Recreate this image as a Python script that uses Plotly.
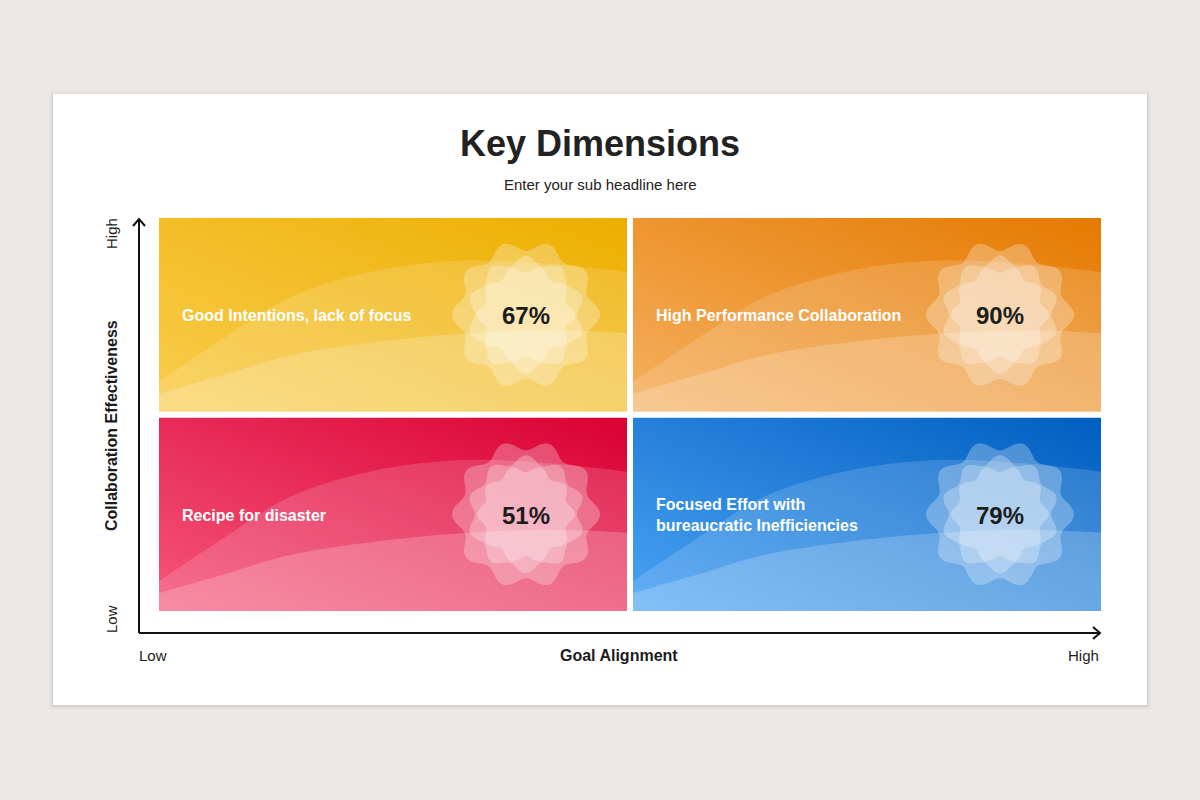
import numpy as np
import plotly.graph_objects as go

# ---- chart content ----
TITLE = "Key Dimensions"
SUBTITLE = "Enter your sub headline here"
X_TITLE = "Goal Alignment"
Y_TITLE = "Collaboration Effectiveness"
X_TICKS = ["Low", "High"]
Y_TICKS = ["Low", "High"]

QUAD_LABELS = [
    "Good Intentions, lack of focus",
    "High Performance Collaboration",
    "Recipe for disaster",
    "Focused Effort with<br>bureaucratic Inefficiencies",
]
QUAD_SCORES = [67, 90, 51, 79]

# light (bottom-left) -> dark (top-right) gradient per quadrant
QUAD_COLORS = [
    ("#F9CD4E", "#EDAE00"),
    ("#F5B060", "#E57A00"),
    ("#F5577A", "#DA0033"),
    ("#4AA3F5", "#005EBF"),
]

# ---- layout constants (pixels) ----
W, H = 1200, 800
BG = "#ECE8E6"
QUAD_W, QUAD_H = 468, 193.5
QUAD_ORIGINS = [(159, 218), (633, 218), (159, 417.5), (633, 417.5)]
BADGE_DX = 367
LABEL_DX = 21
FONT = "Liberation Sans, Arial, sans-serif"
INK = "#1c1c1c"

# decorative wave profiles inside each quadrant (unit coords, v up)
WAVE_BACK_U = [0, 0.14, 0.28, 0.45, 0.65, 0.85, 1]
WAVE_BACK_V = [0.155, 0.38, 0.59, 0.72, 0.78, 0.76, 0.72]
WAVE_FRONT_U = [0, 0.14, 0.28, 0.5, 0.7, 0.85, 1]
WAVE_FRONT_V = [0.093, 0.19, 0.29, 0.37, 0.41, 0.42, 0.405]

# badge = three wavy 10-lobe stars: (mean radius, amplitude, phase deg)
STARS = [(69, 5, 0), (55, 4, 18), (45.5, 3.5, 0)]


def star_path(cx, cy, r0, amp, phase):
    t = np.linspace(0, 2 * np.pi, 361)
    r = r0 + amp * np.cos(10 * (t - np.radians(phase)))
    xs = cx + r * np.cos(t)
    ys = cy - r * np.sin(t)
    pts = " L".join(f"{x:.2f},{y:.2f}" for x, y in zip(xs, ys))
    return "M" + pts + " Z"


fig = go.Figure()

# overlay axis in pixel coords for text, arrows, badges
fig.update_layout(
    xaxis=dict(domain=[0, 1], range=[0, W], visible=False, fixedrange=True),
    yaxis=dict(domain=[0, 1], range=[H, 0], visible=False, fixedrange=True),
)
fig.add_trace(go.Scatter(x=[0], y=[0], mode="markers", marker_opacity=0,
                         hoverinfo="skip", showlegend=False))

shapes = []
annotations = []

# card with soft shadow
for pad, alpha in [(4, 0.025), (2, 0.035), (1, 0.04)]:
    shapes.append(dict(type="rect", xref="x", yref="y", layer="below",
                       x0=53 - pad, x1=1147 + pad, y0=94 - pad + 1, y1=705 + pad + 1,
                       line_width=0, fillcolor=f"rgba(0,0,0,{alpha})"))
shapes.append(dict(type="rect", xref="x", yref="y", layer="below",
                   x0=53, x1=1147, y0=94, y1=705, line_width=0, fillcolor="white"))

for i, (ox, oy) in enumerate(QUAD_ORIGINS):
    n = i + 2
    xa, ya = f"xaxis{n}", f"yaxis{n}"
    fig.update_layout({
        xa: dict(domain=[ox / W, (ox + QUAD_W) / W], range=[0, 1],
                 visible=False, fixedrange=True, anchor=f"y{n}"),
        ya: dict(domain=[1 - (oy + QUAD_H) / H, 1 - oy / H], range=[0, 1],
                 visible=False, fixedrange=True, anchor=f"x{n}"),
    })
    light, dark = QUAD_COLORS[i]
    fig.add_trace(go.Heatmap(
        x=[0, 1], y=[0, 1], z=[[0, 0.5], [0.5, 1]], zmin=0, zmax=1,
        zsmooth="best", colorscale=[[0, light], [1, dark]], showscale=False,
        hoverinfo="skip", xaxis=f"x{n}", yaxis=f"y{n}"))
    for us, vs, op in [(WAVE_BACK_U, WAVE_BACK_V, 0.15),
                       (WAVE_FRONT_U, WAVE_FRONT_V, 0.2)]:
        fig.add_trace(go.Scatter(
            x=us, y=vs, mode="lines", line=dict(width=0, shape="spline", smoothing=1),
            fill="tozeroy", fillcolor=f"rgba(255,255,255,{op})",
            hoverinfo="skip", showlegend=False, xaxis=f"x{n}", yaxis=f"y{n}"))

    cx, cy = ox + BADGE_DX, oy + QUAD_H / 2
    for r0, amp, ph in STARS:
        shapes.append(dict(type="path", xref="x", yref="y", layer="above",
                           path=star_path(cx, cy, r0, amp, ph), line_width=0,
                           fillcolor="rgba(255,255,255,0.27)"))
    annotations.append(dict(x=cx, y=cy + 1, text=f"<b>{QUAD_SCORES[i]}%</b>",
                            font=dict(size=24, color=INK, family=FONT)))
    annotations.append(dict(x=ox + LABEL_DX, y=cy + 1, xanchor="left", align="left",
                            text=f"<b>{QUAD_LABELS[i]}</b>",
                            font=dict(size=16, color="white", family=FONT)))

# axis arrows
arrow = dict(type="path", xref="x", yref="y", layer="above",
             line=dict(color="#111111", width=2))
shapes.append({**arrow, "path": "M139,633 L1100,633"})
shapes.append({**arrow, "path": "M1093,627 L1100,633 L1093,639"})
shapes.append({**arrow, "path": "M139,633 L139,219"})
shapes.append({**arrow, "path": "M133,226 L139,219 L145,226"})

# titles
annotations.append(dict(x=600, y=143, text=f"<b>{TITLE}</b>",
                        font=dict(size=36, color="#222222", family=FONT)))
annotations.append(dict(x=600, y=184, text=SUBTITLE,
                        font=dict(size=15, color="#222222", family=FONT)))

# axis labels
annotations.append(dict(x=137, y=655, xanchor="left", text=X_TICKS[0],
                        font=dict(size=15, color=INK, family=FONT)))
annotations.append(dict(x=1101, y=655, xanchor="right", text=X_TICKS[1],
                        font=dict(size=15, color=INK, family=FONT)))
annotations.append(dict(x=619, y=655, text=f"<b>{X_TITLE}</b>",
                        font=dict(size=16, color=INK, family=FONT)))
annotations.append(dict(x=111, y=619, textangle=-90, text=Y_TICKS[0],
                        font=dict(size=15, color=INK, family=FONT)))
annotations.append(dict(x=111, y=234, textangle=-90, text=Y_TICKS[1],
                        font=dict(size=15, color=INK, family=FONT)))
annotations.append(dict(x=111, y=426, textangle=-90, text=f"<b>{Y_TITLE}</b>",
                        font=dict(size=16, color=INK, family=FONT)))

for a in annotations:
    a.update(xref="x", yref="y", showarrow=False)

fig.update_layout(
    width=W, height=H, autosize=False,
    margin=dict(l=0, r=0, t=0, b=0),
    paper_bgcolor=BG, plot_bgcolor="rgba(0,0,0,0)",
    showlegend=False, hovermode=False,
    shapes=shapes, annotations=annotations,
)

# drop the default page margin so the figure fills the window exactly
fig.write_html("out.html", config={"displayModeBar": False}, post_script=(
    "document.body.style.margin='0';"
    f"document.body.style.background='{BG}';"
))
